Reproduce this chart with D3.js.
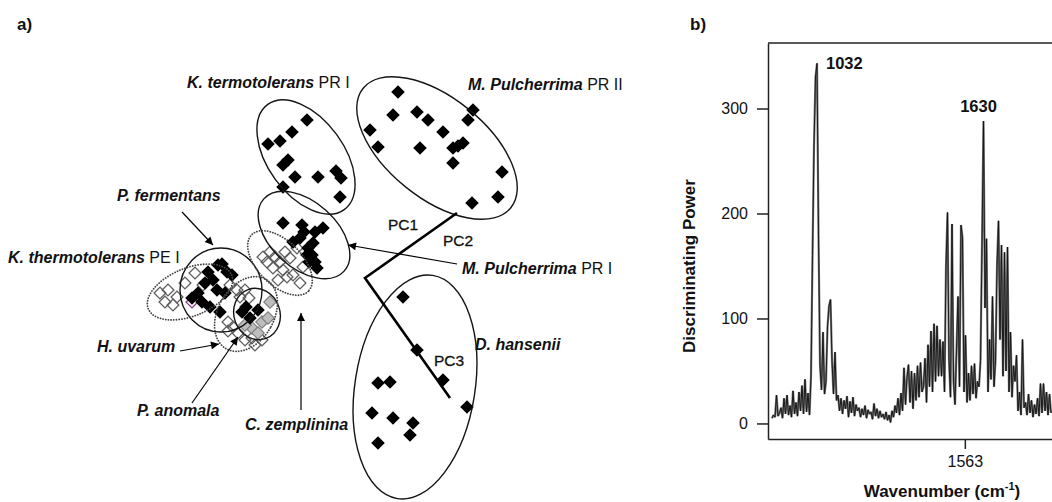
<!DOCTYPE html>
<html><head><meta charset="utf-8">
<script src="https://cdn.jsdelivr.net/npm/d3@7"></script>
<style>
html,body{margin:0;padding:0;background:#fff;}
svg{display:block;font-family:"Liberation Sans",Arial,Helvetica,sans-serif;}
</style></head><body>
<svg id="fig" width="1052" height="502"></svg>
<script>
// ---------- panel a: PCA scores (PC1/PC2/PC3 projection) ----------
const kTermotoleransPR1 = [[-2.3,15.0],[-3.8,13.8],[-5.0,12.9],[-6.2,12.6],[-4.2,11.0],[-4.7,10.5],
  [-3.5,9.3],[-1.2,9.3],[0.6,9.9],[1.1,9.2],[-4.7,8.3],[1.0,7.3]];
const mPulcherrimaPR1 = [[-4.7,4.7],[-2.8,4.5],[-2.6,3.8],[-1.5,3.8],[-0.7,4.2],[-3.7,2.8],[-3.0,3.2],
  [-2.2,2.2],[-1.7,2.7],[-2.3,1.5],[-1.8,1.5],[-1.5,0.8],[-1.3,0.2],[-2.1,0.8]];
const mPulcherrimaPR2 = [[6.8,17.8],[6.3,15.5],[8.7,15.8],[9.8,15.0],[4.0,14.0],[4.8,12.3],[9.0,12.2],
  [11.3,13.8],[14.3,16.0],[13.8,15.0],[13.3,12.7],[12.3,12.2],[12.8,12.4],[12.3,10.7],[17.2,9.8],
  [16.8,7.3],[14.2,6.7]];
const dHansenii = [[7.3,-2.7],[8.7,-8.0],[11.3,-11.0],[4.8,-11.3],[6.0,-11.2],[13.7,-13.7],[4.2,-14.3],
  [6.3,-14.8],[8.3,-15.3],[8.0,-16.5],[4.8,-17.3]];
const pFermentans = [[-11.2,0.5],[-10.3,-0.2],[-12.2,-0.2],[-9.8,-0.5],[-11.7,-1.0],[-12.5,-1.3],
  [-11.3,-2.0],[-13.2,-2.3],[-10.5,-2.3],[-13.8,-2.8],[-12.8,-3.2],[-12.0,-3.7],[-11.0,-4.2],
  [-10.8,0.6],[-8.8,-4.2],[-7.2,-4.0],[-8.0,-4.8],[-8.4,-3.7]];
const pAnomala = [[-6.0,-3.2],[-6.8,-5.2],[-7.8,-5.8],[-6.2,-4.8],[-7.2,-6.3],[-8.5,-5.5]];
const kThermotoleransPE1 = [[-17.0,-2.3],[-16.2,-2.0],[-16.5,-3.2],[-15.7,-3.5],[-15.3,-2.7],
  [-13.5,-0.3],[-14.5,-1.3],[-12.7,-1.5],[-10.0,-1.5],[-9.3,-2.0],[-13.8,-3.2]];
const hUvarum = [[-10.2,-5.2],[-9.7,-5.7],[-9.2,-6.3],[-8.5,-7.0],[-7.8,-6.8],[-10.2,-6.1],
  [-8.5,-2.0],[-9.0,-2.7],[-8.1,-2.8],[-6.8,-7.0],[-7.5,-7.5]];
const cZemplinina = [[-6.0,1.8],[-5.5,1.3],[-5.0,0.8],[-6.3,0.8],[-4.5,1.8],[-4.0,1.2],[-5.7,0.2],
  [-4.7,0.0],[-3.7,-0.5],[-2.7,0.3],[-3.3,2.2],[-4.3,-0.7],[-6.7,1.3],[-5.2,-1.0],[-3.0,-1.3]];

// group ellipses: centre, semi-axes (score units), tilt (deg)
const clusterEllipses = [
  {c:[-2.4,11.3], rx:6.5, ry:3.8, a:54, dotted:false},
  {c:[-2.6,3.5],  rx:5.4, ry:3.3, a:42, dotted:false},
  {c:[10.7,12.2], rx:9.5, ry:5.0, a:39, dotted:false},
  {c:[8.5,-11.7], rx:6.0, ry:11.3, a:9, dotted:false},
  {c:[-10.9,-2.0],rx:4.1, ry:4.2, a:0, dotted:false},
  {c:[-7.3,-4.4], rx:2.3, ry:2.6, a:-20, dotted:false},
  {c:[-14.0,-2.2],rx:4.5, ry:2.4, a:-22, dotted:true},
  {c:[-8.4,-4.4], rx:2.8, ry:4.0, a:30, dotted:true},
  {c:[-5.0,0.7],  rx:4.0, ry:2.2, a:45, dotted:true}
];
// principal component axes
const pcAxis = [[12.7,5.7],[3.5,-0.8],[12.0,-12.8]];

// ---------- panel b: discriminating power spectrum ----------
const wnStart = 870.4, wnStep = 5.3874;   // cm-1 sampling grid
const power = [
  5,8,6,27,7,10,15,5,24,9,
  27,8,17,6,31,9,20,7,30,12,
  36,9,42,11,29,8,45,160,265,330,
  343,180,55,32,87,28,40,92,112,118,
  60,28,68,22,27,12,24,9,22,14,
  26,6,21,10,25,7,18,12,15,6,
  14,8,17,5,13,9,11,4,19,7,
  14,5,12,6,9,4,11,3,8,1,
  12,6,17,10,24,8,29,12,53,18,
  44,56,20,50,14,48,22,55,25,58,
  30,35,62,20,75,35,88,30,95,40,
  93,45,80,45,78,30,150,201,60,25,
  190,40,18,70,121,35,189,177,30,84,
  20,48,22,55,28,57,24,40,35,60,
  170,288,110,176,30,80,42,121,35,60,
  150,193,80,170,45,163,50,168,30,87,
  25,55,40,65,12,30,8,80,15,20,
  8,28,10,22,6,18,9,24,7,38,
  10,38,12,30,8,28,10
];
const yTicks = [0, 100, 200, 300];
const xTicks = [1563];
const peakLabels = [1032, 1630];

// ================= drawing =================
const svg = d3.select("#fig");
const ink = "#111";

// panel letters
svg.append("text").attr("x", 17).attr("y", 30).attr("font-size", 17).attr("font-weight", "bold")
  .attr("fill", ink).text("a)");
svg.append("text").attr("x", 690).attr("y", 30).attr("font-size", 17).attr("font-weight", "bold")
  .attr("fill", ink).text("b)");

// ---- panel a ----
const sx = d3.scaleLinear().domain([-20, 20]).range([130, 530]);
const sy = d3.scaleLinear().domain([-20, 20]).range([470, 70]);
const a = svg.append("g");

const defs = svg.append("defs");
defs.append("marker").attr("id", "head").attr("viewBox", "0 0 10 10")
  .attr("refX", 10).attr("refY", 5).attr("markerWidth", 9).attr("markerHeight", 8)
  .attr("markerUnits", "userSpaceOnUse").attr("orient", "auto")
  .append("path").attr("d", "M0,0L10,5L0,10Z").attr("fill", "#000");

const diamond = size => d3.symbol(d3.symbolSquare, size)();
function drawGroup(pts, style) {
  a.append("g").selectAll("path").data(pts).join("path")
    .attr("d", diamond(style.size))
    .attr("transform", d => `translate(${sx(d[0])},${sy(d[1])}) rotate(45)`)
    .attr("fill", style.fill).attr("stroke", style.stroke)
    .attr("stroke-width", style.sw || 0);
}
const hollow = {size: 70, fill: "none", stroke: "#5e5e5e", sw: 1.3};
drawGroup(kThermotoleransPE1.slice(0, -1), hollow);
drawGroup(kThermotoleransPE1.slice(-1), {size: 70, fill: "none", stroke: "#8a3c8a", sw: 1.3});
drawGroup(hUvarum, hollow);
drawGroup(cZemplinina, hollow);
drawGroup(pAnomala, {size: 78, fill: "#bdbdbd", stroke: "#7a7a7a", sw: 1.1});
const solid = {size: 92, fill: "#000", stroke: "none"};
[kTermotoleransPR1, mPulcherrimaPR1, mPulcherrimaPR2, dHansenii, pFermentans]
  .forEach(g => drawGroup(g, solid));

// ellipses
a.append("g").selectAll("ellipse").data(clusterEllipses).join("ellipse")
  .attr("transform", d => `translate(${sx(d.c[0])},${sy(d.c[1])}) rotate(${d.a})`)
  .attr("rx", d => sx(d.rx) - sx(0)).attr("ry", d => sy(0) - sy(d.ry))
  .attr("fill", "none")
  .attr("stroke", d => d.dotted ? "#444" : "#151515")
  .attr("stroke-width", d => d.dotted ? 1.8 : 1.4)
  .attr("stroke-dasharray", d => d.dotted ? "0.1,2.6" : null)
  .attr("stroke-linecap", d => d.dotted ? "round" : "butt");

// PC axes
a.append("path").attr("d", d3.line().x(d => sx(d[0])).y(d => sy(d[1]))(pcAxis))
  .attr("fill", "none").attr("stroke", "#000").attr("stroke-width", 2.6);

// label arrows (score coordinates)
const arrows = [
  [[-14.8,5.8],[-11.7,2.5]],
  [[12.7,0.6],[1.8,2.5]],
  [[-15.0,-8.1],[-11.1,-7.4]],
  [[-13.8,-13.3],[-9.2,-6.7]],
  [[-2.9,-14.0],[-2.9,-4.3]]
];
a.append("g").selectAll("line").data(arrows).join("line")
  .attr("x1", d => sx(d[0][0])).attr("y1", d => sy(d[0][1]))
  .attr("x2", d => sx(d[1][0])).attr("y2", d => sy(d[1][1]))
  .attr("stroke", "#000").attr("stroke-width", 1.2).attr("marker-end", "url(#head)");

// group labels: species name in bold italic, strain suffix upright
const labels = [
  {x:187, y:88,  sp:"K. termotolerans", suf:" PR I"},
  {x:468, y:90,  sp:"M. Pulcherrima",   suf:" PR II"},
  {x:117, y:201, sp:"P. fermentans",    suf:""},
  {x:8,   y:263, sp:"K. thermotolerans",suf:" PE I"},
  {x:97,  y:352, sp:"H. uvarum",        suf:""},
  {x:137, y:416, sp:"P. anomala",       suf:""},
  {x:245, y:430, sp:"C. zemplinina",    suf:""},
  {x:462, y:274, sp:"M. Pulcherrima",   suf:" PR I"},
  {x:475, y:350, sp:"D. hansenii",      suf:""}
];
const lab = a.append("g").attr("font-size", 16).attr("fill", ink);
labels.forEach(l => {
  const t = lab.append("text").attr("x", l.x).attr("y", l.y);
  t.append("tspan").attr("font-style", "italic").attr("font-weight", "bold").text(l.sp);
  if (l.suf) t.append("tspan").text(l.suf);
});
[{x:388,y:230,t:"PC1"},{x:443,y:246,t:"PC2"},{x:434,y:366,t:"PC3"}].forEach(p =>
  lab.append("text").attr("x", p.x).attr("y", p.y).attr("font-size", 15.5)
    .attr("stroke", ink).attr("stroke-width", 0.3).text(p.t));

// ---- panel b ----
const wn = power.map((_, i) => wnStart + i * wnStep);
const x = d3.scaleLinear().domain([856, 1890.4]).range([768, 1056]);
const y = d3.scaleLinear().domain([-14.8, 362.4]).range([439, 43]);
const b = svg.append("g");

defs.append("clipPath").attr("id", "plotClip").append("rect")
  .attr("x", 769).attr("y", 43).attr("width", 300).attr("height", 396);

const line = d3.line().x((d, i) => x(wn[i])).y(d => y(d));
const spec = b.append("g").attr("clip-path", "url(#plotClip)");
spec.append("path").attr("d", line(power)).attr("fill", "none")
  .attr("stroke", "#777").attr("stroke-width", 2.2).attr("stroke-linejoin", "bevel");
spec.append("path").attr("d", line(power)).attr("fill", "none")
  .attr("stroke", "#111").attr("stroke-width", 0.9).attr("stroke-linejoin", "bevel");

// frame
b.append("line").attr("x1", 768).attr("x2", 1060).attr("y1", 43).attr("y2", 43)
  .attr("stroke", "#222").attr("stroke-width", 1.5);

const yAxis = b.append("g").attr("transform", "translate(768,0)")
  .call(d3.axisLeft(y).tickValues(yTicks).tickSize(11).tickSizeOuter(0).tickPadding(9));
const xAxis = b.append("g").attr("transform", "translate(0,439)")
  .call(d3.axisBottom(x).tickValues(xTicks).tickFormat(d3.format("d")).tickSize(10).tickSizeOuter(0).tickPadding(7));
[yAxis, xAxis].forEach(g => {
  g.selectAll("path,line").attr("stroke", "#222").attr("stroke-width", 1.5);
  g.selectAll("text").attr("font-size", 16).attr("fill", ink)
    .attr("font-family", "Liberation Sans, Arial, sans-serif");
});

// peak labels
peakLabels.forEach((p, k) => {
  const i = d3.minIndex(wn, w => Math.abs(w - p));
  const px = x(wn[i]), py = y(power[i]);
  b.append("text").attr("font-size", 16.5).attr("font-weight", "bold").attr("fill", ink)
    .attr("x", k === 0 ? px + 9 : px - 5).attr("y", k === 0 ? py + 6 : py - 9)
    .attr("text-anchor", k === 0 ? "start" : "middle").text(p);
});

// axis titles
b.append("text").attr("transform", "translate(695,266) rotate(-90)").attr("text-anchor", "middle")
  .attr("font-size", 17).attr("font-weight", "bold").attr("fill", ink).text("Discriminating Power");
const xt = b.append("text").attr("x", 942).attr("y", 497).attr("text-anchor", "middle")
  .attr("font-size", 17).attr("font-weight", "bold").attr("fill", ink);
xt.append("tspan").text("Wavenumber (cm");
xt.append("tspan").attr("font-size", 11).attr("dy", -7).text("-1");
xt.append("tspan").attr("dy", 7).text(")");
</script>
</body></html>
